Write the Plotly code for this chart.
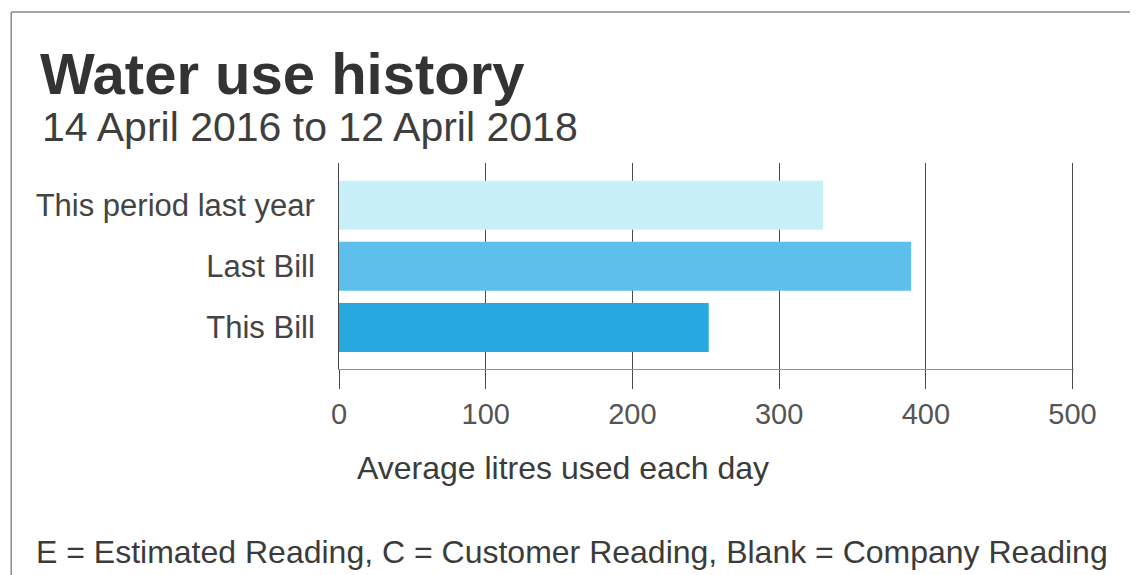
import plotly.graph_objects as go

categories = ["This Bill", "Last Bill", "This period last year"]
values = [252, 390, 330]
bar_colors = ["#27a9e0", "#5cbfec", "#c8f0f9"]
tick_values = [0, 100, 200, 300, 400, 500]
tick_labels = ["0", "100", "200", "300", "400", "500"]

title_text = "Water use history"
subtitle_text = "14 April 2016 to 12 April 2018"
axis_title = "Average litres used each day"
footer_text = "E = Estimated Reading, C = Customer Reading, Blank = Company Reading"

# page body has an 8px margin: work in screen coordinates and subtract it
O = 8
SW, SH = 1138, 575
W, H = SW - O, SH - O
XMAX = 501
pl, pt, pb = 339, 163, 369          # plot area in screen px
pr = pl + 734 * XMAX / 500          # so that 500 lands at x=1073
L, R, T, B = pl - O, SW - pr, pt - O, SH - pb
pw, ph = pr - pl, pb - pt

def px(x):
    return (x - pl) / pw

def py(y):
    return (pb - y) / ph

font_main = "Liberation Sans, Arial, sans-serif"
txt = "#3b3b3b"

fig = go.Figure(go.Bar(
    x=values, y=categories, orientation="h",
    marker=dict(color=bar_colors, line=dict(width=0)),
    width=0.8,
))

fig.update_layout(
    width=W, height=H,
    margin=dict(l=L, r=R, t=T, b=B, pad=0),
    paper_bgcolor="white", plot_bgcolor="white",
    showlegend=False,
    xaxis=dict(
        range=[0, XMAX], tickvals=tick_values, ticktext=tick_labels,
        showgrid=True, gridcolor="#4a4a4a", gridwidth=1,
        zeroline=False,
        ticks="outside", ticklen=19, tickcolor="#4a4a4a", tickwidth=1,
        showline=True, linecolor="#8f8f8f", linewidth=1,
        tickfont=dict(family=font_main, size=29, color="#555555"),
        fixedrange=True,
    ),
    yaxis=dict(
        categoryorder="array", categoryarray=categories,
        range=[-0.68, 2.69],
        showgrid=False, zeroline=False,
        showline=True, linecolor="#454545", linewidth=1,
        ticks="", ticklabelstandoff=17,
        tickfont=dict(family=font_main, size=31, color="#444444"),
        fixedrange=True,
    ),
    shapes=[
        dict(type="line", xref="paper", yref="paper", x0=px(11), x1=px(SW + 5), y0=py(12), y1=py(12),
             line=dict(color="#8a8a8a", width=1.5)),
        dict(type="line", xref="paper", yref="paper", x0=px(11), x1=px(11), y0=py(12), y1=py(SH + 5),
             line=dict(color="#8a8a8a", width=1.5)),
    ],
    annotations=[
        dict(text="<b>" + title_text + "</b>", xref="paper", yref="paper", x=px(38), y=py(73),
             xanchor="left", yanchor="middle", showarrow=False,
             font=dict(family=font_main, size=58, color="#333333")),
        dict(text=subtitle_text, xref="paper", yref="paper", x=px(40), y=py(127),
             xanchor="left", yanchor="middle", showarrow=False,
             font=dict(family=font_main, size=41, color="#3e3e3e")),
        dict(text=axis_title, xref="paper", yref="paper", x=px(563), y=py(468),
             xanchor="center", yanchor="middle", showarrow=False,
             font=dict(family=font_main, size=32, color=txt)),
        dict(text=footer_text, xref="paper", yref="paper", x=px(572), y=py(552),
             xanchor="center", yanchor="middle", showarrow=False,
             font=dict(family=font_main, size=32, color=txt)),
    ],
)

fig.write_html("out.html")
